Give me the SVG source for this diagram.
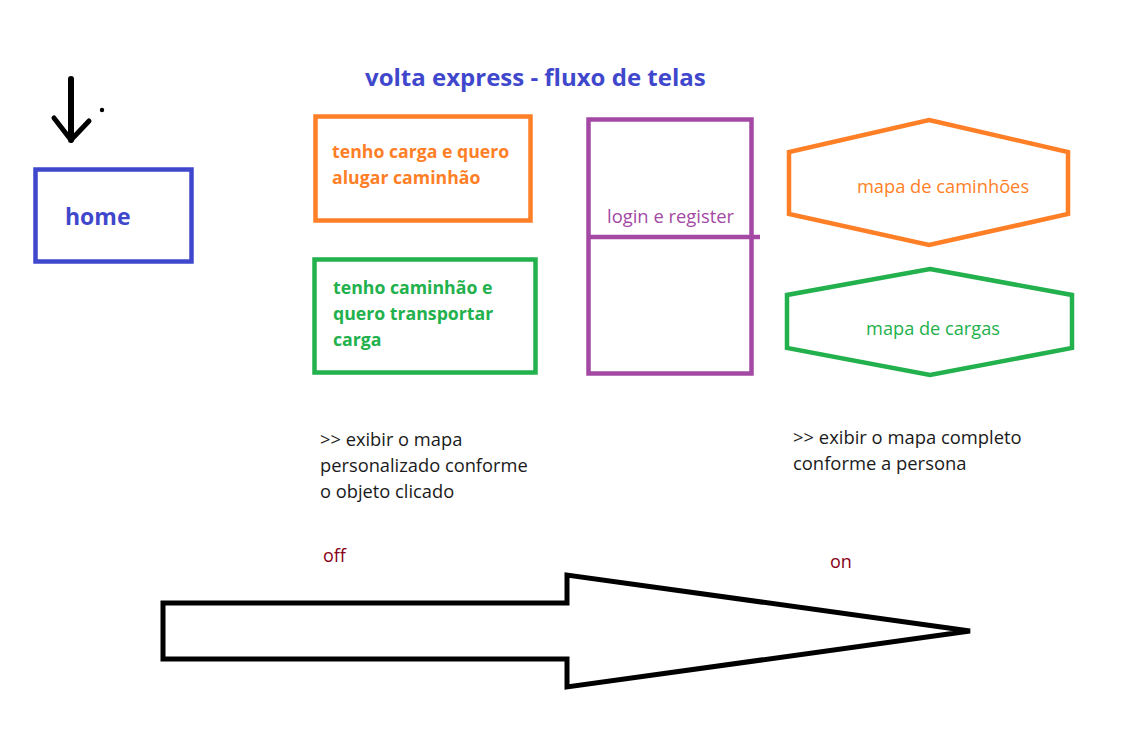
<svg xmlns="http://www.w3.org/2000/svg" width="1133" height="753" viewBox="0 0 1133 753">
<style>
  .t { font-family: "Open Sans", "Liberation Sans", sans-serif; }
  .b { font-weight: bold; }
  .box { fill: none; stroke-width: 4.5; }
  .blue { fill: #3f48cc; } .orange { fill: #ff7f27; } .green { fill: #22b14c; } .purple { fill: #a349a4; } .black { fill: #1a1a1a; } .red { fill: #880015; }
</style>
<rect width="1133" height="753" fill="#ffffff"/>
<text class="t b blue" x="365" y="86" font-size="24">volta express - fluxo de telas</text>
<g id="start-arrow" stroke="#000" stroke-width="5" stroke-linecap="round" stroke-linejoin="round" fill="none">
  <path d="M71 79 L71 140" stroke-width="6"/>
  <path d="M54 118 L71 140 L89 121"/>
  <circle cx="102" cy="110" r="2.2" fill="#000" stroke="none"/>
</g>
<g id="home">
  <rect class="box" x="35.5" y="169.5" width="156" height="92" stroke="#3f48cc"/>
  <text class="t b blue" x="65" y="225" font-size="23">home</text>
</g>
<g id="carga">
  <rect class="box" x="315.5" y="116.5" width="215" height="104" stroke="#ff7f27"/>
  <text class="t b orange" font-size="17.7"><tspan x="332" y="158">tenho carga e quero</tspan><tspan x="332" y="184">alugar caminhão</tspan></text>
</g>
<g id="caminhao">
  <rect class="box" x="314.5" y="259.5" width="221" height="113" stroke="#22b14c"/>
  <text class="t b green" font-size="17.7"><tspan x="333" y="294">tenho caminhão e</tspan><tspan x="333" y="320">quero transportar</tspan><tspan x="333" y="346">carga</tspan></text>
</g>
<g id="login">
  <rect class="box" x="588.5" y="119.5" width="163" height="254" stroke="#a349a4"/>
  <line x1="588" y1="237" x2="760" y2="237" stroke="#a349a4" stroke-width="4.5"/>
  <text class="t purple" x="607" y="223" font-size="18.4">login e register</text>
</g>
<g id="mapa-caminhoes">
  <polygon class="box" points="929,120 1068,152 1068,214 929,245 789,214 789,152" stroke="#ff7f27"/>
  <text class="t orange" x="943" y="193" font-size="18.3" text-anchor="middle">mapa de caminhões</text>
</g>
<g id="mapa-cargas">
  <polygon class="box" points="930,269 1072,295 1072,348 930,375 787,348 787,295" stroke="#22b14c"/>
  <text class="t green" x="933" y="335" font-size="18.2" text-anchor="middle">mapa de cargas</text>
</g>
<g id="notes">
  <text class="t black" font-size="18.3"><tspan x="320" y="446">&gt;&gt; exibir o mapa</tspan><tspan x="320" y="472">personalizado conforme</tspan><tspan x="320" y="498">o objeto clicado</tspan></text>
  <text class="t black" font-size="18.4"><tspan x="793" y="444">&gt;&gt; exibir o mapa completo</tspan><tspan x="793" y="470">conforme a persona</tspan></text>
  <text class="t red" x="323" y="562" font-size="18">off</text>
  <text class="t red" x="830" y="568" font-size="18">on</text>
</g>
<g id="connectors">
  <polygon points="163,603 567,603 567,575 970,631 567,687 567,659 163,659" fill="none" stroke="#000" stroke-width="5" stroke-linejoin="miter"/>
</g>
</svg>
